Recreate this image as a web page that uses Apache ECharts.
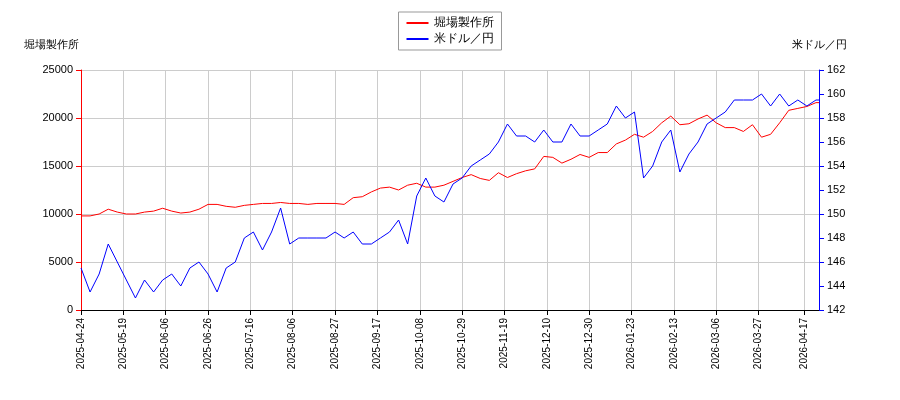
<!DOCTYPE html>
<html>
<head>
<meta charset="utf-8">
<script src="https://cdn.jsdelivr.net/npm/echarts@6/dist/echarts.min.js"></script>
<style>html,body{margin:0;padding:0}#chart{width:900px;height:400px}</style>
</head>
<body>
<div id="chart"></div>
<script>
// 堀場製作所 (left axis), sampled every 3rd trading day
const horibaValues = [9800, 9800, 10000, 10500, 10200, 10000, 10000, 10200, 10300, 10600,
  10300, 10100, 10200, 10500, 11000, 11000, 10800, 10700, 10900, 11000,
  11100, 11100, 11200, 11100, 11100, 11000, 11100, 11100, 11100, 11000,
  11700, 11800, 12300, 12700, 12800, 12500, 13000, 13200, 12800, 12800,
  13000, 13400, 13800, 14100, 13700, 13500, 14300, 13800, 14200, 14500,
  14700, 16000, 15900, 15300, 15700, 16200, 15900, 16400, 16400, 17300,
  17700, 18300, 18000, 18600, 19500, 20200, 19300, 19400, 19900, 20300,
  19500, 19000, 19000, 18600, 19300, 18000, 18300, 19500, 20800, 21000,
  21200, 21600]
// 米ドル／円 (right axis)
const usdJpyValues = [145.5, 143.5, 145, 147.5, 146, 144.5, 143, 144.5, 143.5, 144.5,
  145, 144, 145.5, 146, 145, 143.5, 145.5, 146, 148, 148.5,
  147, 148.5, 150.5, 147.5, 148, 148, 148, 148, 148.5, 148,
  148.5, 147.5, 147.5, 148, 148.5, 149.5, 147.5, 151.5, 153, 151.5,
  151, 152.5, 153, 154, 154.5, 155, 156, 157.5, 156.5, 156.5,
  156, 157, 156, 156, 157.5, 156.5, 156.5, 157, 157.5, 159,
  158, 158.5, 153, 154, 156, 157, 153.5, 155, 156, 157.5,
  158, 158.5, 159.5, 159.5, 159.5, 160, 159, 160, 159, 159.5,
  159, 159.5]
const tickLabels = ['2025-04-24', '2025-05-19', '2025-06-06', '2025-06-26', '2025-07-16',
  '2025-08-06', '2025-08-27', '2025-09-17', '2025-10-08', '2025-10-29', '2025-11-19',
  '2025-12-10', '2025-12-30', '2026-01-23', '2026-02-13', '2026-03-06', '2026-03-27', '2026-04-17']
const holidays = ['2025-04-29', '2025-05-05', '2025-05-06', '2025-07-21', '2025-08-11',
  '2025-09-15', '2025-09-23', '2025-10-13', '2025-11-03', '2025-11-24', '2025-12-31',
  '2026-01-01', '2026-01-02', '2026-01-12', '2026-02-11', '2026-02-23', '2026-03-20']
const step = 3

// trading days
const fmt = d => d.toISOString().slice(0, 10)
const dates = []
for (let d = new Date('2025-04-24T00:00:00Z'); fmt(d) <= '2026-04-24'; d.setUTCDate(d.getUTCDate() + 1)) {
  const wd = d.getUTCDay()
  if (wd === 0 || wd === 6 || holidays.includes(fmt(d))) continue
  dates.push(fmt(d))
}
function spread(vals) {
  const out = new Array(dates.length).fill(null)
  vals.forEach((v, k) => { if (k * step < out.length) out[k * step] = v })
  out[out.length - 1] = vals[vals.length - 1]
  return out
}
const showTick = (i, v) => tickLabels.includes(v)

const chart = echarts.init(document.getElementById('chart'))
chart.setOption({
  animation: false,
  legend: {
    top: 12, left: 'center', orient: 'vertical',
    borderColor: '#999', borderWidth: 1, padding: [5, 8], itemGap: 4,
    backgroundColor: '#fff', icon: 'rect', itemWidth: 22, itemHeight: 2,
    textStyle: { fontSize: 12, color: '#000' },
    data: ['堀場製作所', '米ドル／円']
  },
  grid: { left: 81, right: 81, top: 70, bottom: 90 },
  xAxis: {
    type: 'category', data: dates, boundaryGap: false,
    axisLine: { lineStyle: { color: '#000' } },
    axisTick: { interval: showTick, lineStyle: { color: '#000' } },
    axisLabel: { interval: showTick, rotate: 90, fontSize: 10, color: '#000' },
    splitLine: { show: true, interval: showTick, lineStyle: { color: '#ccc' } }
  },
  yAxis: [{
    type: 'value', min: 0, max: 25000, interval: 5000,
    name: '堀場製作所', nameGap: 20, nameTextStyle: { color: '#000', fontSize: 11, padding: [0, 0, 0, -60] },
    axisLine: { show: true, lineStyle: { color: 'red' } },
    axisTick: { show: true, lineStyle: { color: 'red' } },
    axisLabel: { color: '#000', fontSize: 11, formatter: v => String(v) },
    splitLine: { lineStyle: { color: '#ccc' } }
  }, {
    type: 'value', min: 142, max: 162, interval: 2,
    name: '米ドル／円', nameGap: 20, nameTextStyle: { color: '#000', fontSize: 11, padding: [0, 0, 0, 0] },
    axisLine: { show: true, lineStyle: { color: 'blue' } },
    axisTick: { show: true, lineStyle: { color: 'blue' } },
    axisLabel: { color: '#000', fontSize: 11 },
    splitLine: { show: false }
  }],
  series: [{
    name: '堀場製作所', type: 'line', yAxisIndex: 0, data: spread(horibaValues),
    connectNulls: true, showSymbol: false, color: 'red', lineStyle: { width: 1 }
  }, {
    name: '米ドル／円', type: 'line', yAxisIndex: 1, data: spread(usdJpyValues),
    connectNulls: true, showSymbol: false, color: 'blue', lineStyle: { width: 1 }
  }]
})
</script>
</body>
</html>
